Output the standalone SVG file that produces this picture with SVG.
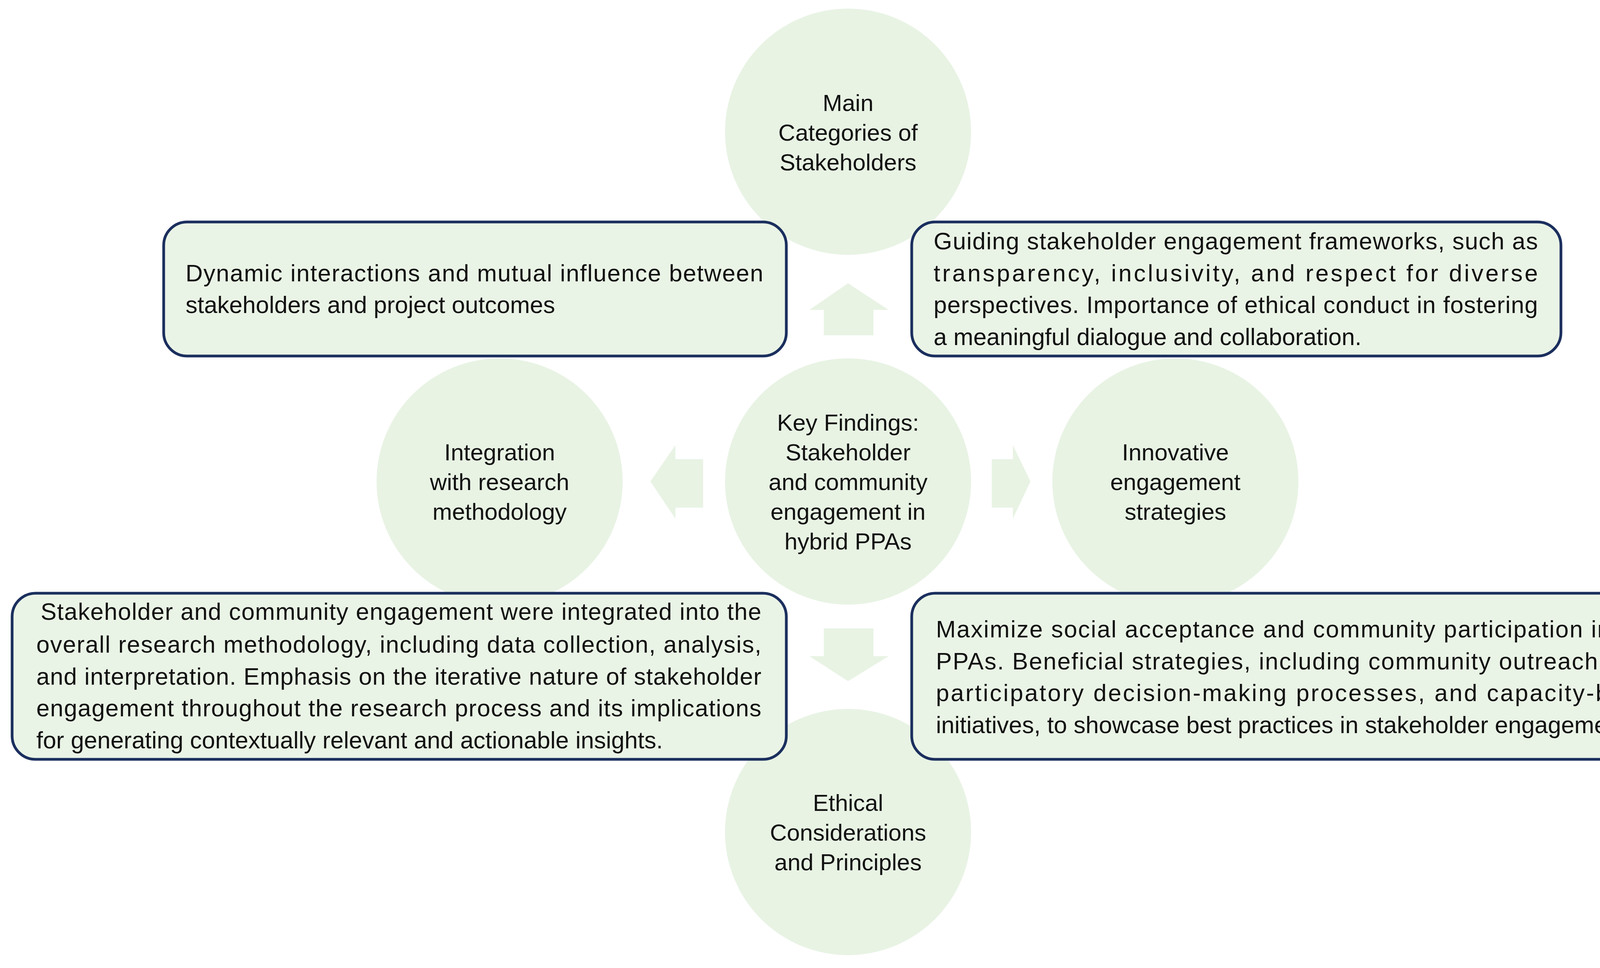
<svg xmlns="http://www.w3.org/2000/svg" width="4409" height="2477" viewBox="0 0 4409 2477">
<style>
.c{fill:#E8F3E4}
.a{fill:#E8F3E4}
.b{fill:#EAF4E6;stroke:#1B2F5E;stroke-width:7}
text{font-family:"Liberation Sans",Arial,sans-serif;font-size:61px;fill:#111}
.m{text-anchor:middle;font-size:60px}
</style>
<rect width="4409" height="2477" fill="#fff"/>
<g id="n-top"><circle class="c" cx="2171" cy="337" r="315"/><text class="m" x="2171" y="284">Main</text><text class="m" x="2171" y="360">Categories of</text><text class="m" x="2171" y="436">Stakeholders</text></g>
<g id="n-left"><circle class="c" cx="1279" cy="1232" r="315"/><text class="m" x="1279" y="1178">Integration</text><text class="m" x="1279" y="1254">with research</text><text class="m" x="1279" y="1330">methodology</text></g>
<g id="n-right"><circle class="c" cx="3009" cy="1232" r="315"/><text class="m" x="3009" y="1178">Innovative</text><text class="m" x="3009" y="1254">engagement</text><text class="m" x="3009" y="1330">strategies</text></g>
<g id="n-bottom"><circle class="c" cx="2171" cy="2129" r="315"/><text class="m" x="2171" y="2075">Ethical</text><text class="m" x="2171" y="2151">Considerations</text><text class="m" x="2171" y="2227">and Principles</text></g>
<g id="n-center"><circle class="c" cx="2171" cy="1232" r="315"/><text class="m" x="2171" y="1102">Key Findings:</text><text class="m" x="2171" y="1178">Stakeholder</text><text class="m" x="2171" y="1254">and community</text><text class="m" x="2171" y="1330">engagement in</text><text class="m" x="2171" y="1406">hybrid PPAs</text></g>
<g id="connectors">
<polygon class="a" points="2171,725 2275,793 2236,793 2236,858 2109,858 2109,793 2072,793"/>
<polygon class="a" points="2171,1743 2275,1679 2236,1679 2236,1608 2109,1608 2109,1679 2072,1679"/>
<polygon class="a" points="1665,1232 1729,1139 1729,1175 1800,1175 1800,1299 1729,1299 1729,1327"/>
<polygon class="a" points="2638,1232 2593,1139 2593,1175 2539,1175 2539,1299 2593,1299 2593,1327"/>
</g>
<g id="box-tl"><rect class="b" x="419" y="568" width="1594" height="343" rx="60"/>
<text x="475" y="720" textLength="1479" lengthAdjust="spacing">Dynamic interactions and mutual influence between</text>
<text x="475" y="801">stakeholders and project outcomes</text></g>
<g id="box-tr"><rect class="b" x="2334" y="568" width="1662" height="343" rx="60"/>
<text x="2390" y="638" textLength="1547" lengthAdjust="spacing">Guiding stakeholder engagement frameworks, such as</text>
<text x="2390" y="720" textLength="1547" lengthAdjust="spacing">transparency, inclusivity, and respect for diverse</text>
<text x="2390" y="801" textLength="1547" lengthAdjust="spacing">perspectives. Importance of ethical conduct in fostering</text>
<text x="2390" y="883">a meaningful dialogue and collaboration.</text></g>
<g id="box-bl"><rect class="b" x="31" y="1518" width="1982" height="425" rx="60"/>
<text x="104" y="1586" textLength="1845" lengthAdjust="spacing">Stakeholder and community engagement were integrated into the</text>
<text x="93" y="1670" textLength="1856" lengthAdjust="spacing">overall research methodology, including data collection, analysis,</text>
<text x="93" y="1752" textLength="1856" lengthAdjust="spacing">and interpretation. Emphasis on the iterative nature of stakeholder</text>
<text x="93" y="1833" textLength="1856" lengthAdjust="spacing">engagement throughout the research process and its implications</text>
<text x="93" y="1915">for generating contextually relevant and actionable insights.</text></g>
<g id="box-br"><rect class="b" x="2334" y="1518" width="2050" height="425" rx="60"/>
<text x="2396" y="1631" textLength="1926" lengthAdjust="spacing">Maximize social acceptance and community participation in hybrid</text>
<text x="2396" y="1713" textLength="1926" lengthAdjust="spacing">PPAs. Beneficial strategies, including community outreach events,</text>
<text x="2396" y="1794" textLength="1926" lengthAdjust="spacing">participatory decision-making processes, and capacity-building</text>
<text x="2396" y="1876">initiatives, to showcase best practices in stakeholder engagement.</text></g>
</svg>
